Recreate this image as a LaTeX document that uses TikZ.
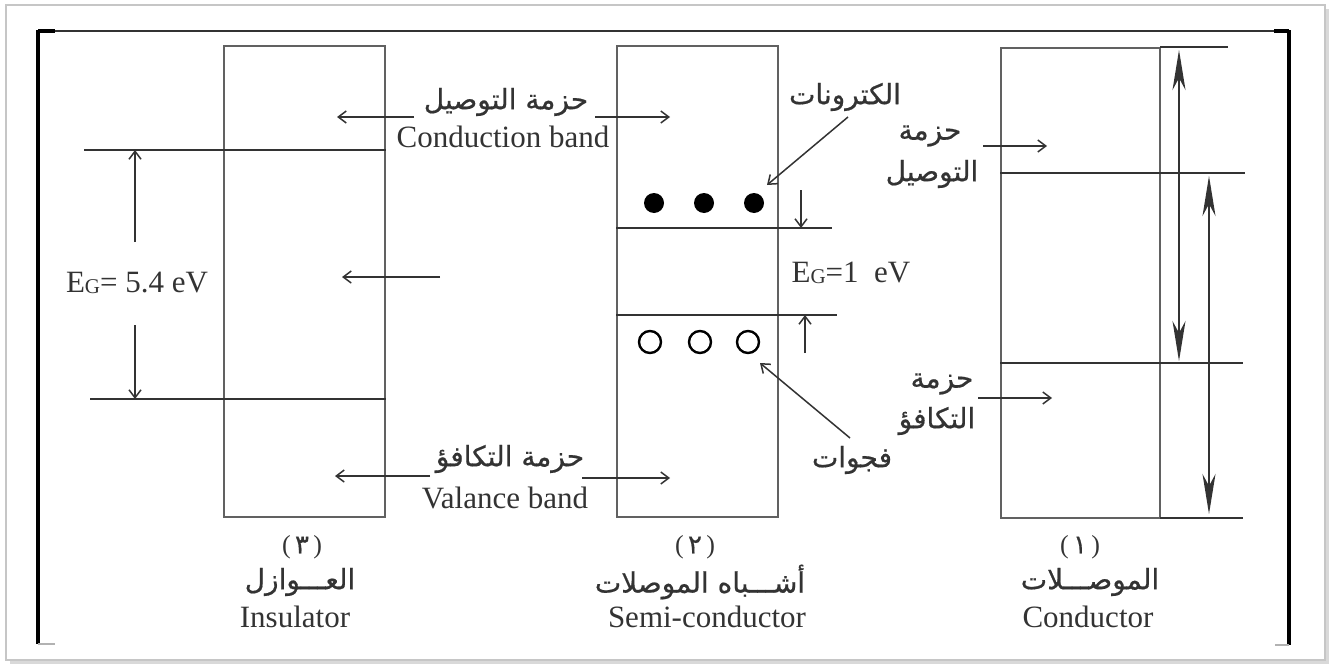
\documentclass[tikz,border=0pt]{standalone}
\usepackage{fontspec}
\setmainfont{Liberation Serif}
\newfontfamily\arabicfont[Script=Arabic,FakeBold=0.6]{DejaVu Sans}
\TeXXeTstate=1
\usetikzlibrary{arrows.meta}
\definecolor{boxc}{gray}{0.38}
\definecolor{linec}{gray}{0.2}
\definecolor{txtc}{gray}{0.2}
\tikzset{
  bandbox/.style={draw=boxc, line width=0.85pt, minimum width=80.5pt, minimum height=235.5pt, inner sep=0pt},
  level/.style={draw=linec, line width=1pt},
  ptr/.style={draw=linec, line width=0.75pt, -{Straight Barb[length=4pt,width=6pt]}},
  bigptr/.style={draw=linec, line width=1pt, {Stealth[length=20pt,width=6.5pt,inset=6pt]}-{Stealth[length=20pt,width=6.5pt,inset=6pt]}},
  lat/.style={text=txtc, font=\fontsize{15.5}{17}\selectfont, inner sep=0pt},
  ar/.style={text=txtc, font=\arabicfont\fontsize{14}{16}\selectfont, inner sep=0pt},
  num/.style={text=txtc, font=\fontsize{13}{15}\selectfont, inner sep=0pt},
  dot/.style={circle, fill=black, minimum size=10pt, inner sep=0pt},
  hole/.style={circle, draw=black, line width=1.2pt, minimum size=11pt, inner sep=0pt},
}
\begin{document}
\begin{tikzpicture}[x=0.5pt,y=-0.5pt]
\useasboundingbox (0,0) rectangle (1329,664);
% outer page frame with shadow
\draw[gray!30, line width=3pt] (1327,9) -- (1327,663) -- (10,663);
\draw[gray!45, line width=0.8pt] (6,5) rectangle (1325,660);
% inner frame
\draw[linec, line width=1pt] (38,31) -- (1289,31);
\draw[black, line width=1.8pt] (38,30) -- (38,644);
\draw[black, line width=1.8pt] (1289,30) -- (1289,645);
\draw[black, line width=1.6pt] (38,31) -- (55,31);
\draw[black, line width=1.6pt] (1274,31) -- (1289,31);
\draw[gray!60, line width=0.6pt] (38,644) -- (55,644);
\draw[gray!60, line width=0.6pt] (1275,645) -- (1289,645);

% ===== Insulator =====
\node[bandbox] (ins) at (304.5,281.5) {};
\coordinate (iL1) at (84,150);
\coordinate (iL2) at (90,399);
\draw[level] (iL1) -- (ins.east |- iL1);
\draw[level] (iL2) -- (ins.east |- iL2);
\node[lat] (egI) at (137,283) {E\raisebox{-0.1ex}{\fontsize{10.5}{12}\selectfont G}= 5.4 eV};
\coordinate (iu) at (135,242);
\coordinate (iut) at (135,150);
\coordinate (id) at (135,325);
\coordinate (idt) at (135,399);
\draw[ptr] (iu) -- (iut);
\draw[ptr] (id) -- (idt);
\coordinate (ia1) at (414,117); \coordinate (ib1) at (337,117);
\coordinate (ia2) at (440,277); \coordinate (ib2) at (342,277);
\coordinate (ia3) at (430,476); \coordinate (ib3) at (335,476);
\draw[ptr] (ia1) -- (ib1);
\draw[ptr] (ia2) -- (ib2);
\draw[ptr] (ia3) -- (ib3);

% shared labels
\node[ar] (cbA) at (506,102) {\beginR حزمة التوصيل\endR};
\node[lat] (cbE) at (503,137) {Conduction band};
\node[ar] (vbA) at (510,459) {\beginR حزمة التكافؤ\endR};
\node[lat] (vbE) at (505,498) {Valance band};

% ===== Semiconductor =====
\node[bandbox] (semi) at (697.5,281.5) {};
\coordinate (sL1) at (832,228);
\coordinate (sL2) at (837,315);
\draw[level] (semi.west |- sL1) -- (sL1);
\draw[level] (semi.west |- sL2) -- (sL2);
\node[dot] (e1) at (654,203) {};
\node[dot] (e2) at (704,203) {};
\node[dot] (e3) at (754,203) {};
\node[hole] (h1) at (650,342) {};
\node[hole] (h2) at (700,342) {};
\node[hole] (h3) at (748,342) {};
\coordinate (sa1) at (595,117); \coordinate (sb1) at (670,117);
\coordinate (sa2) at (582,478); \coordinate (sb2) at (670,478);
\draw[ptr] (sa1) -- (sb1);
\draw[ptr] (sa2) -- (sb2);
\coordinate (gd) at (801,190); \coordinate (gdt) at (801,228);
\coordinate (gu) at (805,353); \coordinate (gut) at (805,315);
\draw[ptr] (gd) -- (gdt);
\draw[ptr] (gu) -- (gut);
\node[lat] (egS) at (851,273) {E\raisebox{-0.1ex}{\fontsize{10.5}{12}\selectfont G}=1\ \ eV};
\node[ar] (elbl) at (845,97) {\beginR الكترونات\endR};
\node[ar] (hlbl) at (852,460) {\beginR فجوات\endR};
\coordinate (es) at (848,117); \coordinate (et) at (767,185);
\coordinate (hs) at (850,438); \coordinate (ht) at (760,363);
\draw[ptr] (es) -- (et);
\draw[ptr] (hs) -- (ht);

% ===== Conductor =====
\node[bandbox, minimum width=79.5pt, minimum height=235pt] (cond) at (1080.5,283) {};
\draw[boxc, line width=0.85pt] (1160,48) -- (1160,518);
\draw[linec, line width=1.3pt] (1160,47) -- (1228,47);
\coordinate (cL1) at (1245,173);
\coordinate (cL2) at (1243,363);
\draw[level] (cond.west |- cL1) -- (cL1);
\draw[level] (cond.west |- cL2) -- (cL2);
\draw[linec, line width=1.3pt] (1160,518) -- (1243,518);
\coordinate (bA1) at (1179,50); \coordinate (bA2) at (1179,361);
\coordinate (bB1) at (1209,176); \coordinate (bB2) at (1209,514);
\draw[bigptr] (bA1) -- (bA2);
\draw[bigptr] (bB1) -- (bB2);
\node[ar] (ccA1) at (930,136) {\beginR حزمة\endR};
\node[ar] (ccA2) at (932,174) {\beginR التوصيل\endR};
\node[ar] (cvA1) at (942,384) {\beginR حزمة\endR};
\node[ar] (cvA2) at (937,421) {\beginR التكافؤ\endR};
\coordinate (ca1) at (983,146); \coordinate (cb1) at (1047,146);
\coordinate (ca2) at (978,398); \coordinate (cb2) at (1052,398);
\draw[ptr] (ca1) -- (cb1);
\draw[ptr] (ca2) -- (cb2);

% ===== bottom captions =====
\node[num] (n3) at (302,547) {(\,{\arabicfont ٣}\,)};
\node[ar] (insA) at (300,582) {\beginR العـــوازل\endR};
\node[lat] (insE) at (295,617) {Insulator};
\node[num] (n2) at (695,547) {(\,{\arabicfont ٢}\,)};
\node[ar] (semiA) at (700,582) {\beginR أشـــباه الموصلات\endR};
\node[lat] (semiE) at (707,617) {Semi-conductor};
\node[num] (n1) at (1080,547) {(\,{\arabicfont ١}\,)};
\node[ar] (condA) at (1090,582) {\beginR الموصـــلات\endR};
\node[lat] (condE) at (1088,617) {Conductor};
\end{tikzpicture}
\end{document}
